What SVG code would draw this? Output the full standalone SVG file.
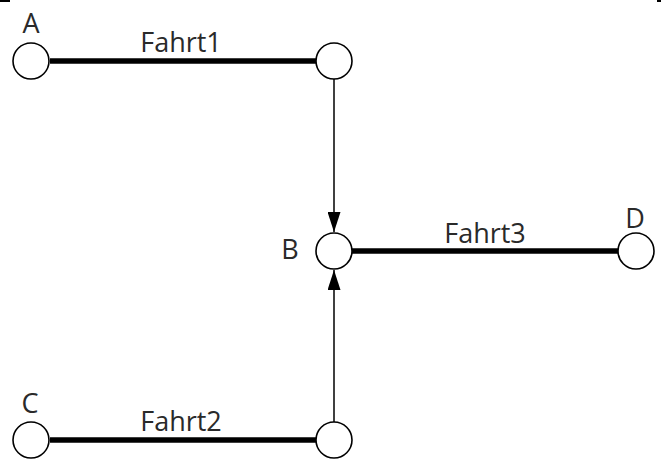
<svg xmlns="http://www.w3.org/2000/svg" width="661" height="472" viewBox="0 0 661 472">
<style>
.node circle{fill:#fff;stroke:#000;stroke-width:1.6}
.lbl{font-family:"Open Sans","Liberation Sans",sans-serif;font-size:27px;fill:#2a2a2a;text-anchor:middle}
.trip{stroke:#000;stroke-width:5.5;fill:none}
.flow{stroke:#000;stroke-width:1.5;fill:none;marker-end:url(#arr)}
</style>
<defs>
<marker id="arr" markerUnits="userSpaceOnUse" markerWidth="20" markerHeight="13" refX="20" refY="6.5" orient="auto" viewBox="0 0 20 13">
<path d="M0,0 L20,6.5 L0,13 Z" fill="#000"/>
</marker>
</defs>
<rect width="661" height="472" fill="#fff"/>
<rect x="0" y="0" width="10" height="2" fill="#000"/>
<rect x="657" y="0" width="4" height="2" fill="#000"/>
<g id="connectors">
<line class="trip" x1="50" y1="61" x2="316" y2="61"/>
<line class="trip" x1="352" y1="251" x2="618" y2="251"/>
<line class="trip" x1="50" y1="440" x2="316" y2="440"/>
<line class="flow" x1="334" y1="79" x2="334" y2="232"/>
<line class="flow" x1="334" y1="422" x2="334" y2="270"/>
<text class="lbl" x="181" y="52">Fahrt1</text>
<text class="lbl" x="485" y="243">Fahrt3</text>
<text class="lbl" x="181" y="431">Fahrt2</text>
</g>
<g id="A" class="node"><circle cx="31" cy="61" r="18"/><text class="lbl" x="31" y="33">A</text></g>
<g id="N1" class="node"><circle cx="334" cy="61" r="18"/></g>
<g id="B" class="node"><circle cx="334" cy="251" r="18"/><text class="lbl" x="290" y="259">B</text></g>
<g id="D" class="node"><circle cx="636" cy="251" r="18"/><text class="lbl" x="635" y="228">D</text></g>
<g id="C" class="node"><circle cx="31" cy="440" r="18"/><text class="lbl" x="30" y="413">C</text></g>
<g id="N2" class="node"><circle cx="334" cy="440" r="18"/></g>
</svg>
